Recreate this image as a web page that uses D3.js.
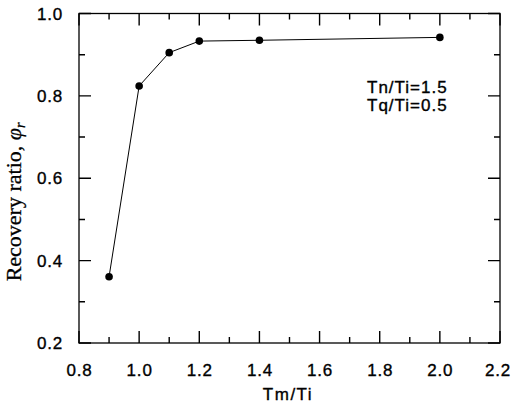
<!DOCTYPE html>
<html>
<head>
<meta charset="utf-8">
<script src="https://cdn.jsdelivr.net/npm/d3@7"></script>
<style>
html,body{margin:0;padding:0;background:#fff;}
svg{display:block;}
</style>
</head>
<body>
<svg id="chart" width="511" height="406"></svg>
<script>
// Data
const tmTi = [0.9, 1.0, 1.1, 1.2, 1.4, 2.0];
const recovery = [0.361, 0.824, 0.905, 0.933, 0.935, 0.942];
const xTicks = [0.8, 1.0, 1.2, 1.4, 1.6, 1.8, 2.0, 2.2];
const yTicks = [0.2, 0.4, 0.6, 0.8, 1.0];
const xMinor = [0.9, 1.1, 1.3, 1.5, 1.7, 1.9, 2.1];
const yMinor = [0.3, 0.5, 0.7, 0.9];
const annotations = ["Tn/Ti=1.5", "Tq/Ti=0.5"];

const svg = d3.select("#chart");
const L = 79, R = 500, T = 13.5, B = 343;
const x = d3.scaleLinear().domain([0.8, 2.2]).range([L, R]);
const y = d3.scaleLinear().domain([0.2, 1.0]).range([B, T]);
const MAJ = 12, MIN = 6;
const tickFont = "'Liberation Sans', Arial, sans-serif";

// frame
svg.append("rect").attr("x", L).attr("y", T).attr("width", R - L).attr("height", B - T)
  .attr("fill", "none").attr("stroke", "#000").attr("stroke-width", 1.3);

// ticks (inward on all four sides)
const tickPath = d3.path();
xTicks.forEach(v => {
  tickPath.moveTo(x(v), B); tickPath.lineTo(x(v), B - MAJ);
  tickPath.moveTo(x(v), T); tickPath.lineTo(x(v), T + MAJ);
});
xMinor.forEach(v => {
  tickPath.moveTo(x(v), B); tickPath.lineTo(x(v), B - MIN);
  tickPath.moveTo(x(v), T); tickPath.lineTo(x(v), T + MIN);
});
yTicks.forEach(v => {
  tickPath.moveTo(L, y(v)); tickPath.lineTo(L + MAJ, y(v));
  tickPath.moveTo(R, y(v)); tickPath.lineTo(R - MAJ, y(v));
});
yMinor.forEach(v => {
  tickPath.moveTo(L, y(v)); tickPath.lineTo(L + MIN, y(v));
  tickPath.moveTo(R, y(v)); tickPath.lineTo(R - MIN, y(v));
});
svg.append("path").attr("d", tickPath.toString())
  .attr("fill", "none").attr("stroke", "#000").attr("stroke-width", 1.4);

// tick labels
svg.append("g").selectAll("text").data(xTicks).join("text")
  .attr("x", d => x(d) + (d === 2.2 ? -2 : 0.5)).attr("y", 376)
  .attr("text-anchor", "middle")
  .attr("font-family", tickFont).attr("font-size", 17)
  .attr("letter-spacing", 0.8)
  .attr("stroke", "#000").attr("stroke-width", 0.35)
  .text(d => d.toFixed(1));

svg.append("g").selectAll("text").data(yTicks).join("text")
  .attr("x", 63).attr("y", d => y(d)).attr("dy", "0.36em")
  .attr("text-anchor", "end")
  .attr("font-family", tickFont).attr("font-size", 17)
  .attr("letter-spacing", 0.8)
  .attr("stroke", "#000").attr("stroke-width", 0.35)
  .text(d => d.toFixed(1));

// axis titles
svg.append("text")
  .attr("x", 288).attr("y", 400)
  .attr("text-anchor", "middle")
  .attr("font-family", tickFont).attr("font-size", 17)
  .attr("letter-spacing", 1.5)
  .attr("stroke", "#000").attr("stroke-width", 0.35)
  .text("Tm/Ti");

const yl = svg.append("text")
  .attr("transform", "translate(21,202) rotate(-90)")
  .attr("text-anchor", "middle")
  .attr("font-family", "'Liberation Serif', 'Times New Roman', serif")
  .attr("font-size", 22)
  .attr("stroke", "#000").attr("stroke-width", 0.3);
yl.append("tspan").text("Recovery ratio, ");
yl.append("tspan").attr("font-style", "italic").text("φ");
yl.append("tspan").attr("font-style", "italic").attr("font-size", 14).attr("dy", 4).text("r");

// annotation
svg.append("g").selectAll("text").data(annotations).join("text")
  .attr("x", 367).attr("y", (d, i) => 93 + i * 18)
  .attr("font-family", tickFont).attr("font-size", 17)
  .attr("letter-spacing", 1)
  .attr("stroke", "#000").attr("stroke-width", 0.35)
  .text(d => d);

// data line
const pts = tmTi.map((d, i) => [d, recovery[i]]);
svg.append("path")
  .datum(pts)
  .attr("fill", "none").attr("stroke", "#000").attr("stroke-width", 1)
  .attr("d", d3.line().x(d => x(d[0])).y(d => y(d[1])));

svg.append("g").selectAll("circle").data(pts).join("circle")
  .attr("cx", d => x(d[0])).attr("cy", d => y(d[1]))
  .attr("r", 3.8).attr("fill", "#000");
</script>
</body>
</html>
